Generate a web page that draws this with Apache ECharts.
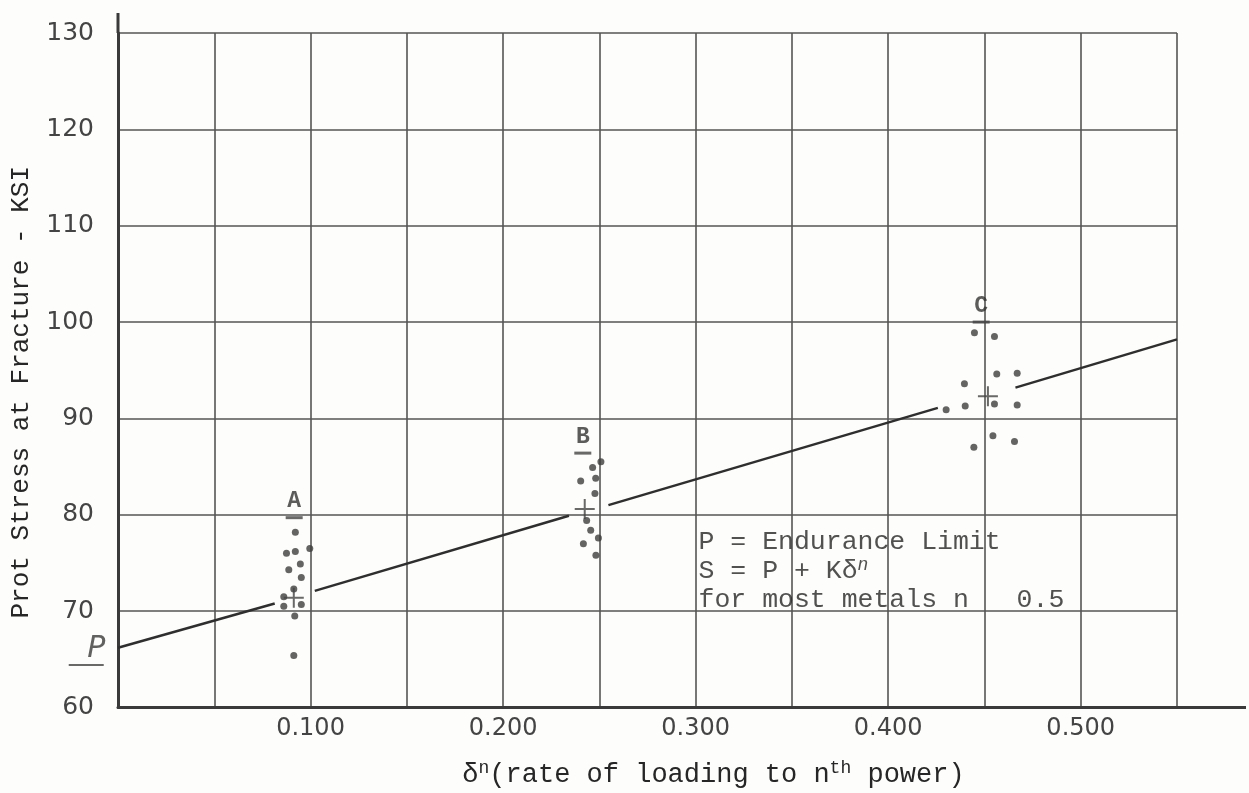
<!DOCTYPE html>
<html lang="en">
<head>
<meta charset="UTF-8">
<title>Prot Stress at Fracture</title>
<script src="https://cdn.jsdelivr.net/npm/echarts@6/dist/echarts.min.js"></script>
<style>html,body{margin:0;background:#fdfdfb;}</style>
</head>
<body>
<div id="main" style="width:1249px;height:793px;"></div>
<script type="text/javascript">

// x tick values that carry a label, and their text
var xTicks = [0.1, 0.2, 0.3, 0.4, 0.5];
var xTickLabels = ['0.100', '0.200', '0.300', '0.400', '0.500'];

// test points, [rate^n, stress ksi]
var groupA = [[0.0921, 78.2], [0.0875, 76.0], [0.0921, 76.2], [0.0996, 76.5], [0.0947, 74.9],
    [0.0887, 74.3], [0.0952, 73.5], [0.0913, 72.3], [0.0861, 71.5], [0.0952, 70.7],
    [0.0861, 70.5], [0.0918, 69.5], [0.0913, 65.4]];
var groupB = [[0.2508, 85.5], [0.2465, 84.9], [0.2403, 83.5], [0.2481, 83.8], [0.2477, 82.2],
    [0.2434, 79.4], [0.2455, 78.4], [0.2417, 77.0], [0.2495, 77.6], [0.2482, 75.8]];
var groupC = [[0.4448, 98.9], [0.4552, 98.5], [0.4564, 94.6], [0.4670, 94.7], [0.4396, 93.6],
    [0.4552, 91.5], [0.4670, 91.4], [0.4400, 91.3], [0.4301, 90.9], [0.4544, 88.2],
    [0.4656, 87.6], [0.4445, 87.0]];

// group means (the little crosses)
var means = [[0.0913, 71.4], [0.2424, 80.6], [0.4518, 92.3]];

// group letters and where their underline sits
var groupNames = ['A', 'B', 'C'];
var groupMarks = [[0.0915, 79.7], [0.2414, 86.4], [0.4483, 100.0]];

// fitted line, drawn in pieces with gaps at each group
var fitSegments = [
    [[0, 66.2], [0.0814, 70.8]],
    [[0.1022, 72.1], [0.2342, 79.9]],
    [[0.2547, 81.0], [0.4258, 91.1]],
    [[0.4661, 93.2], [0.55, 98.2]]
];

// intercept mark "P" left of the axis
var interceptMark = [-0.0165, 64.4];
var noteAnchor = [0.3015, 78.7];

var ink = '#262626';
var mono = '"Liberation Mono", "DejaVu Sans Mono", monospace';
var letter = '"DejaVu Sans", sans-serif';

var chartDom = document.getElementById('main');
var myChart = echarts.init(chartDom);

function dots(name, data) {
    return {
        name: name,
        type: 'scatter',
        data: data,
        symbol: 'circle',
        symbolSize: 7,
        itemStyle: { color: '#3d3d3d' },
        z: 4
    };
}

var series = [];
fitSegments.forEach(function (seg, i) {
    series.push({
        name: 'fit' + i,
        type: 'line',
        data: seg,
        symbol: 'none',
        lineStyle: { color: '#2e2e2e', width: 2.5 },
        z: 3
    });
});
series.push(dots('A', groupA), dots('B', groupB), dots('C', groupC));
series.push({
    name: 'mean',
    type: 'scatter',
    data: means,
    symbol: 'path://M9,0H11V9H20V11H11V20H9V11H0V9H9Z',
    symbolSize: 20,
    itemStyle: { color: '#444' },
    z: 5
});
series.push({
    name: 'groups',
    type: 'scatter',
    data: groupMarks.map(function (p, i) { return { value: p, name: groupNames[i] }; }),
    symbol: 'rect',
    symbolSize: [17, 3],
    itemStyle: { color: '#444' },
    label: {
        show: true,
        position: 'top',
        distance: 3,
        formatter: '{b}',
        fontFamily: mono,
        fontWeight: 'bold',
        fontSize: 23,
        color: '#333'
    },
    z: 5
});
series.push({
    name: 'P',
    type: 'scatter',
    clip: false,
    data: [interceptMark],
    symbol: 'rect',
    symbolSize: [35, 2],
    itemStyle: { color: '#444' },
    label: {
        show: true,
        position: 'top',
        distance: 0,
        offset: [10, 0],
        formatter: 'P',
        fontFamily: letter,
        fontStyle: 'italic',
        fontSize: 30,
        color: '#3a3a3a'
    },
    z: 5
});
series.push({
    name: 'note',
    type: 'scatter',
    data: [noteAnchor],
    symbolSize: 0,
    label: {
        show: true,
        position: [0, 0],
        align: 'left',
        verticalAlign: 'top',
        formatter: '{t|P = Endurance Limit}\n{t|S = P + Kδ}{s|n}\n{t|for most metals n   0.5}',
        rich: {
            t: { fontFamily: mono, fontSize: 26.5, color: ink, lineHeight: 29 },
            s: { fontFamily: mono, fontSize: 18, fontStyle: 'italic', color: ink, lineHeight: 29, verticalAlign: 'top' }
        }
    },
    z: 6
});

var option = {
    backgroundColor: '#fdfdfb',
    animation: false,
    grid: { left: 117, right: 72, top: 33, bottom: 85 },
    xAxis: {
        type: 'value',
        min: 0,
        max: 0.55,
        interval: 0.05,
        name: '{t|δ}{s|n}{t|(rate of loading to n}{s|th}{t| power)}',
        nameLocation: 'middle',
        nameGap: 52,
        nameTextStyle: {
            padding: [0, 0, 0, 132],
            rich: {
                t: { fontFamily: mono, fontSize: 27, color: ink, lineHeight: 30 },
                s: { fontFamily: mono, fontSize: 18, color: ink, lineHeight: 30, verticalAlign: 'top' }
            }
        },
        axisLine: { lineStyle: { color: '#3a3a3a', width: 3 } },
        axisTick: { show: false },
        axisLabel: {
            margin: 9,
            fontFamily: letter,
            fontSize: 24,
            color: '#444',
            formatter: function (v) {
                for (var i = 0; i < xTicks.length; i++) {
                    if (Math.abs(v - xTicks[i]) < 1e-6) return xTickLabels[i];
                }
                return '';
            }
        },
        splitLine: { show: true, lineStyle: { color: '#555', width: 1.6 } }
    },
    yAxis: {
        type: 'value',
        min: 60,
        max: 130,
        interval: 10,
        name: 'Prot Stress at Fracture - KSI',
        nameLocation: 'middle',
        nameRotate: 90,
        nameGap: 84,
        nameTextStyle: {
            fontFamily: mono,
            fontSize: 26,
            color: ink,
            padding: [0, 44, 0, 0]
        },
        axisLine: { show: true, lineStyle: { color: '#3a3a3a', width: 3 } },
        axisTick: { show: false },
        axisLabel: {
            margin: 24,
            fontFamily: letter,
            fontSize: 25,
            color: '#444'
        },
        splitLine: { show: true, lineStyle: { color: '#555', width: 1.6 } }
    },
    series: series
};

myChart.setOption(option);

// the hand-ruled axes run past the grid: x to the paper edge, y above 130
var origin = myChart.convertToPixel({ gridIndex: 0 }, [0, 60]);
var corner = myChart.convertToPixel({ gridIndex: 0 }, [0.55, 130]);
myChart.setOption({
    graphic: [
        { type: 'line', shape: { x1: corner[0], y1: origin[1], x2: 1246, y2: origin[1] },
          style: { stroke: '#3a3a3a', lineWidth: 3 } },
        { type: 'line', shape: { x1: origin[0], y1: corner[1], x2: origin[0], y2: 13 },
          style: { stroke: '#3a3a3a', lineWidth: 3 } }
    ]
});
</script>
</body>
</html>
